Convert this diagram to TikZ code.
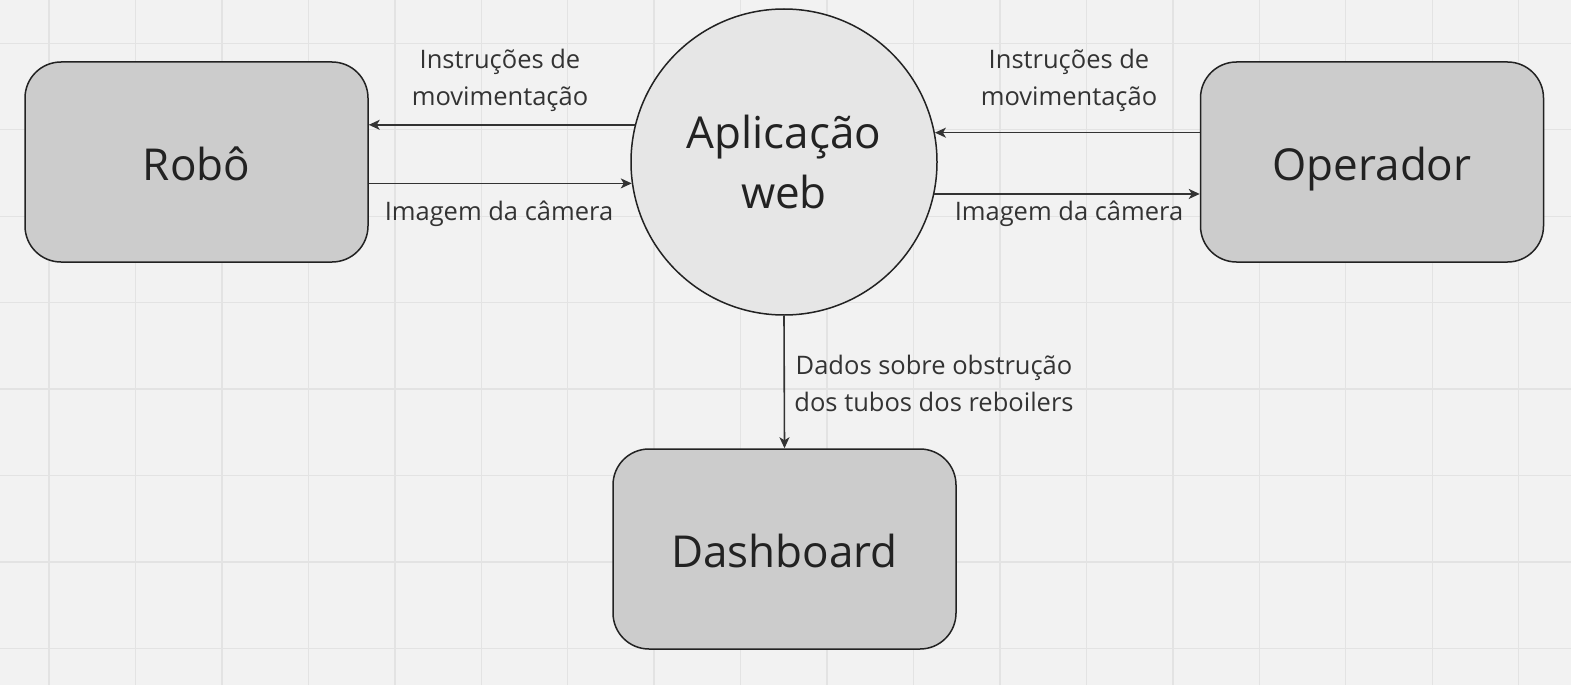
\documentclass[tikz,border=0pt]{standalone}
\usepackage{fontspec}
\setmainfont{Open Sans}
\usetikzlibrary{arrows.meta}
\definecolor{bg}{HTML}{F2F2F2}
\definecolor{gridc}{HTML}{E3E3E3}
\definecolor{boxfill}{HTML}{CCCCCC}
\definecolor{circfill}{HTML}{E6E6E6}
\definecolor{edge}{HTML}{222222}
\definecolor{arrc}{HTML}{333333}
\tikzset{
  box/.style={draw=edge, fill=boxfill, line width=1.5pt, rounded corners=36pt,
    minimum width=343pt, minimum height=200pt, inner sep=0pt,
    text height=36pt, text depth=0pt,
    font=\fontsize{44}{50}\selectfont, text=edge},
  appc/.style={draw=edge, fill=circfill, line width=1.5pt, circle,
    minimum size=306pt, inner sep=0pt, align=center,
    font=\fontsize{44}{60}\selectfont, text=edge},
  arr/.style={draw=arrc, line width=1.6pt, -{Stealth[length=11pt,width=10pt,inset=3pt]}},
  lbl/.style={font=\fontsize{25.5}{37}\selectfont, text=arrc, align=center, inner sep=0pt}
}
\begin{document}
\begin{tikzpicture}[x=1pt,y=-1pt]
\fill[bg] (0,0) rectangle (1571,685);
\useasboundingbox (0,0) rectangle (1571,685);
\foreach \k in {0,...,17} {
  \draw[gridc, line width=1.4pt] ({49+86.45*\k},0) -- ({49+86.45*\k},685);
}
\foreach \k in {0,...,7} {
  \draw[gridc, line width=1.4pt] (0,{43.3+86.45*\k}) -- (1571,{43.3+86.45*\k});
}
\node[box] (robo) at (196.5,162) {Robô};
\node[box] (oper) at (1372,162) {Operador};
\node[box] (dash) at (784.5,549) {Dashboard};
\node[appc] (app) at (784,162) {Aplicação\\web};

\draw[arr] (app.166) -- (app.166 -| robo.east);
\draw[arr] (app.188.3 -| robo.east) -- (app.188.3);
\draw[arr] (app.11.3 -| oper.west) -- (app.11.3);
\draw[arr] (app.348.7) -- (app.348.7 -| oper.west);
\draw[arr] (app.south) -- (dash.north);

\node[lbl] (l1) at (500,80) {Instruções de\\movimentação};
\node[lbl] (l2) at (499,214) {Imagem da câmera};
\node[lbl] (l3) at (1069,80) {Instruções de\\movimentação};
\node[lbl] (l4) at (1069,214) {Imagem da câmera};
\node[lbl] (l5) at (934,383) {Dados sobre obstrução\\dos tubos dos reboilers};
\end{tikzpicture}
\end{document}
